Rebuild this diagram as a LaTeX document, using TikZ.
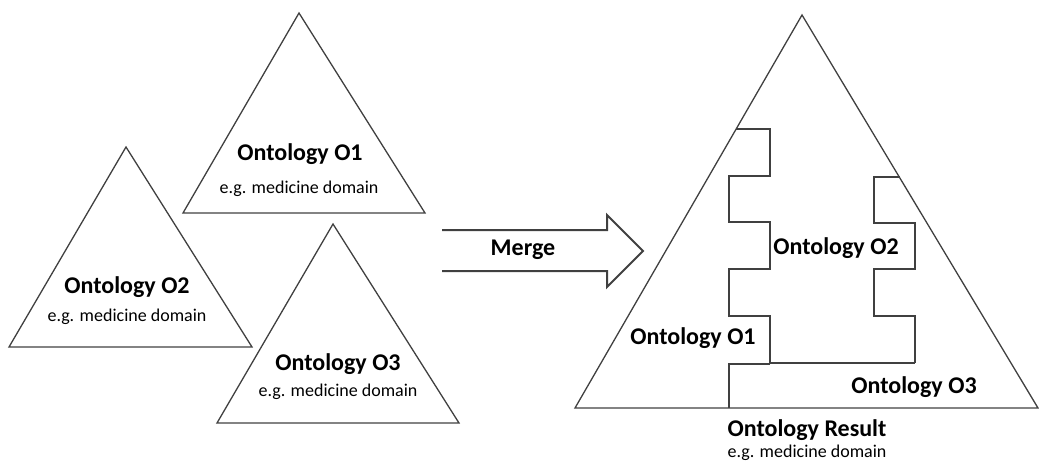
\documentclass[tikz,border=0pt]{standalone}
\usepackage{fontspec}
\setmainfont{Carlito}
\definecolor{edge}{HTML}{404040}
\begin{document}
\begin{tikzpicture}[x=1pt,y=-1pt,
  tri/.style={draw=edge,line width=1.3pt,line join=miter},
  seam/.style={draw=edge,line width=1.3pt},
  title/.style={font=\fontsize{24}{28}\selectfont\bfseries,inner sep=0pt},
  sub/.style={font=\fontsize{18}{22}\selectfont,inner sep=0pt},
  inlabel/.style={font=\fontsize{24}{28}\selectfont\bfseries,inner sep=0pt}]
\useasboundingbox (0,0) rectangle (1039,464);

% three source ontologies
\draw[tri] (299,13) -- (425,213) -- (183,213) -- cycle;
\draw[tri] (126,147) -- (252,347) -- (9,347) -- cycle;
\draw[tri] (333,224) -- (459,423) -- (217,423) -- cycle;

\node[title] (t1) at (300,154) {Ontology O1};
\node[sub]   (s1) at (299,189) {e.g. medicine domain};
\node[title] (t2) at (127,287) {Ontology O2};
\node[sub]   (s2) at (127,317) {e.g. medicine domain};
\node[title] (t3) at (338,364) {Ontology O3};
\node[sub]   (s3) at (338,392) {e.g. medicine domain};

% merge arrow (open at the tail)
\draw[draw=edge,line width=2pt,line join=miter]
  (442,230) -- (607,230) -- (607,215) -- (643,251) -- (607,287) -- (607,271) -- (442,271);
\node[title] (mg) at (523,250) {Merge};

% merged ontology
\draw[tri] (802,15) -- (1038,408) -- (575,408) -- cycle;
% seam between O1 and O2
\draw[seam] (736,129) -- (770,129) -- (770,176) -- (729,176) -- (729,222) -- (770,222)
  -- (770,269) -- (729,269) -- (729,316) -- (770,316) -- (770,363) -- (915,363);
% seam between O2 and O3
\draw[seam] (900,177) -- (874,177) -- (874,223) -- (915,223) -- (915,269) -- (874,269)
  -- (874,316) -- (915,316) -- (915,363);
% seam between O1 and O3
\draw[seam] (770,364) -- (729,364) -- (729,408);

\node[inlabel] (r1) at (693,338) {Ontology O1};
\node[inlabel] (r2) at (836,248) {Ontology O2};
\node[inlabel] (r3) at (914,387) {Ontology O3};
\node[title] (rt) at (807,430) {Ontology Result};
\node[sub]   (rs) at (807,453) {e.g. medicine domain};
\end{tikzpicture}
\end{document}
